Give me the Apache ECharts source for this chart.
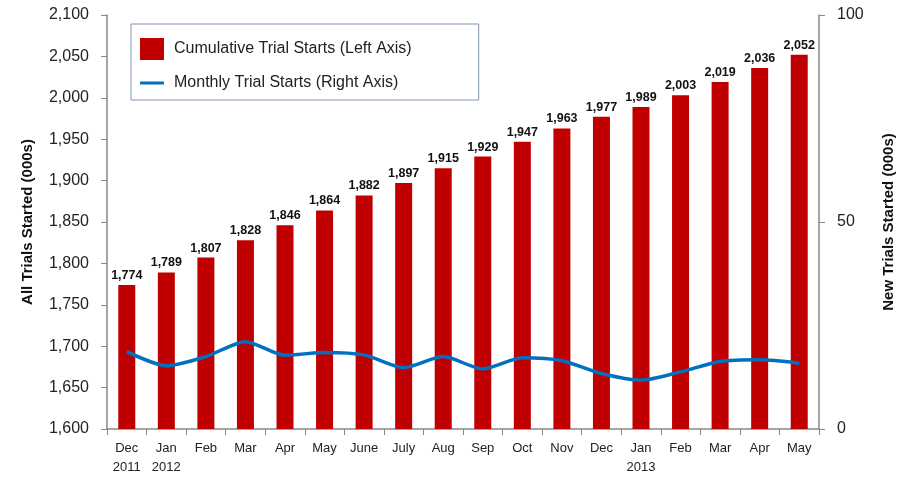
<!DOCTYPE html>
<html><head><meta charset="utf-8">
<script src="https://cdn.jsdelivr.net/npm/echarts@6/dist/echarts.min.js"></script>
<style>html,body{margin:0;padding:0;background:#fff}#c{width:904px;height:479px}</style>
</head><body><div id="c"></div>
<script>
var categories = ['Dec\n2011','Jan\n2012','Feb','Mar','Apr','May','June','July','Aug','Sep','Oct','Nov','Dec','Jan\n2013','Feb','Mar','Apr','May'];
var cumulative = [1774,1789,1807,1828,1846,1864,1882,1897,1915,1929,1947,1963,1977,1989,2003,2019,2036,2052];
var monthly = [18.7,15.3,17.5,21.1,17.8,18.5,17.9,14.8,17.5,14.5,17.2,16.5,13.4,11.8,13.8,16.3,16.7,15.9];
var leftTicks = {min:1600, max:2100, interval:50};
var rightTicks = {min:0, max:100, interval:50};
var FONT = 'Liberation Sans';
var chart = echarts.init(document.getElementById('c'));
chart.setOption({
  animation:false,
  textStyle:{fontFamily:FONT},
  grid:{left:107,right:84,top:15,bottom:50},
  legend:{
    orient:'vertical', left:131, top:24,
    padding:[14,67,9,9], itemGap:15,
    borderColor:'#7f93b5', borderWidth:1,
    itemWidth:24, itemHeight:22,
    textStyle:{fontFamily:FONT,fontSize:16,color:'#222',padding:[0,0,0,5]},
    data:[{name:'Cumulative Trial Starts (Left Axis)',icon:'rect'},
          {name:'Monthly Trial Starts (Right Axis)',icon:'path://M0,0 L24,0 L24,3 L0,3 Z'}]
  },
  xAxis:{type:'category',data:categories,boundaryGap:true,
    axisLine:{lineStyle:{color:'#888',width:1.5}},
    axisTick:{show:true,length:6,lineStyle:{color:'#888'}},
    axisLabel:{fontSize:13,color:'#222',lineHeight:19,margin:10,interval:0}},
  yAxis:[{type:'value',min:leftTicks.min,max:leftTicks.max,interval:leftTicks.interval,
    name:'All Trials Started (000s)',nameLocation:'middle',nameGap:72,nameRotate:90,
    nameTextStyle:{fontSize:15,fontWeight:'bold',color:'#111'},
    axisLine:{show:true,lineStyle:{color:'#888',width:1.5}},
    axisTick:{show:true,length:6,lineStyle:{color:'#888'}},
    splitLine:{show:false},
    axisLabel:{fontSize:16,color:'#222',margin:18,formatter:function(v){return v.toLocaleString('en-US');}}},
   {type:'value',min:rightTicks.min,max:rightTicks.max,interval:rightTicks.interval,position:'right',
    name:'New Trials Started (000s)',nameLocation:'middle',nameGap:62,nameRotate:90,
    nameTextStyle:{fontSize:15,fontWeight:'bold',color:'#111'},
    axisLine:{show:true,lineStyle:{color:'#888',width:1.5}},
    axisTick:{show:true,length:6,lineStyle:{color:'#888'}},
    splitLine:{show:false},
    axisLabel:{fontSize:16,color:'#222',margin:18}}],
  series:[
    {name:'Cumulative Trial Starts (Left Axis)',type:'bar',data:cumulative,yAxisIndex:0,
     barWidth:17,itemStyle:{color:'#C00000'},
     label:{show:true,position:'top',distance:3,fontSize:12.5,fontWeight:'bold',color:'#111',
       formatter:function(p){return p.value.toLocaleString('en-US');}}},
    {name:'Monthly Trial Starts (Right Axis)',type:'line',data:monthly,yAxisIndex:1,
     smooth:0.25,symbol:'none',lineStyle:{color:'#0070C0',width:3.5},itemStyle:{color:'#0070C0'}}
  ]
});
</script></body></html>
